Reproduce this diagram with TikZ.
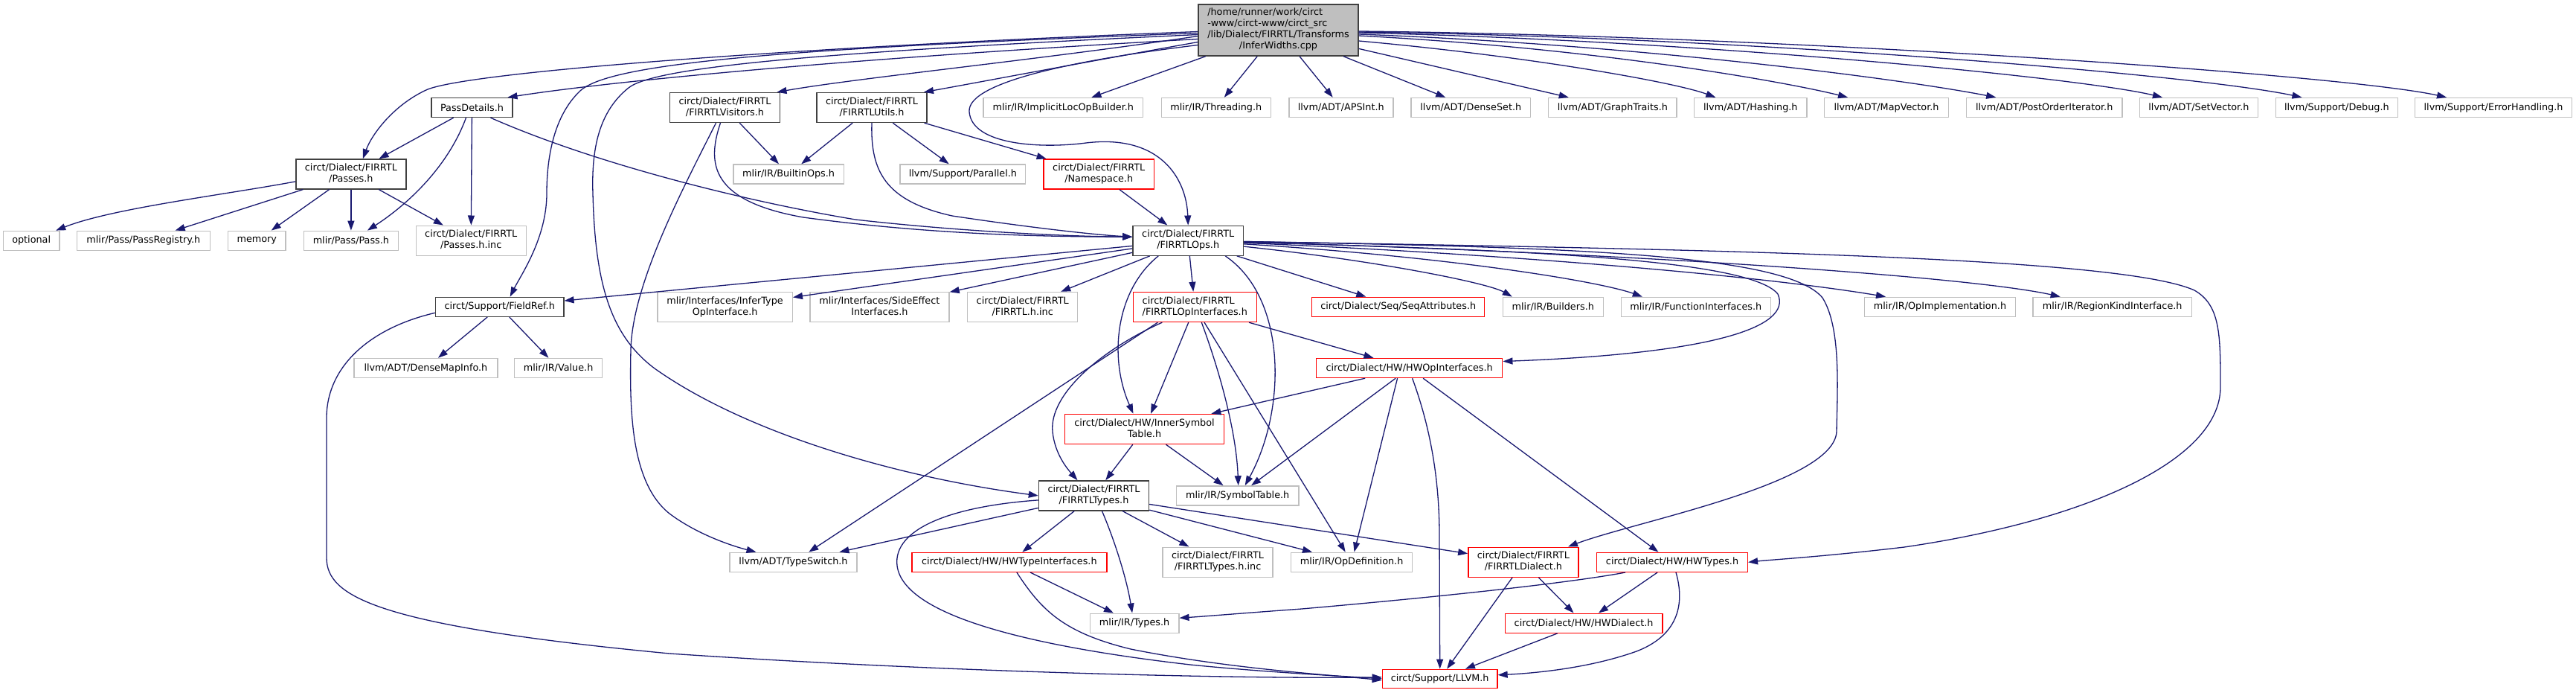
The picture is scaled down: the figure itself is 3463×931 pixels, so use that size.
\documentclass[tikz,border=0pt]{standalone}
\usepackage{fontspec}
\setmainfont{DejaVu Sans}
\usepackage{xcolor}
\usepackage{tikz}
\usetikzlibrary{arrows.meta,positioning}
\definecolor{EdgeBlue}{HTML}{191970}
\definecolor{DocLine}{HTML}{404040}
\definecolor{ExtLine}{HTML}{BFBFBF}
\definecolor{RootFill}{HTML}{BFBFBF}
\definecolor{CutRed}{HTML}{FF0000}
\newcommand{\doxlabel}[2]{\begin{tabular}{@{}l@{}}#1\\\multicolumn{1}{@{}c@{}}{#2}\end{tabular}}

\begin{document}
\begin{tikzpicture}[x=1pt,y=-1pt,
  file/.style={rectangle,inner sep=0pt,line width=1.4pt,minimum height=26pt,fill=white,text=black,font=\fontsize{12.8}{15}\selectfont},
  doc/.style={file,draw=DocLine},
  ext/.style={file,draw=ExtLine},
  cut/.style={file,draw=CutRed},
  tall/.style={minimum height=40pt},
  dep/.style={draw=EdgeBlue,line width=1.3pt,-{Triangle[length=13pt,width=9pt]}}]
  \fill[white] (0,0) rectangle (3463,931);
  \useasboundingbox (0,0) rectangle (3463,931);

  \node[file,draw=DocLine,fill=RootFill,minimum width=215,minimum height=69] (root) at (1718.5,40.5) {\doxlabel{/home/runner/work/circt\\-www/circt-www/circt\_src\\/lib/Dialect/FIRRTL/Transforms}{/InferWidths.cpp}};

  \node[doc,minimum width=109] (passdet) at (634.5,144.5) {PassDetails.h};
  \node[doc,tall,minimum width=148] (visitors) at (974.5,144.5) {\doxlabel{circt/Dialect/FIRRTL}{/FIRRTLVisitors.h}};
  \node[doc,tall,minimum width=148] (utils) at (1172,144.5) {\doxlabel{circt/Dialect/FIRRTL}{/FIRRTLUtils.h}};
  \node[ext,minimum width=214.7] (implicit) at (1429.3,144.5) {mlir/IR/ImplicitLocOpBuilder.h};
  \node[ext,minimum width=147] (threading) at (1634.8,144.5) {mlir/IR/Threading.h};
  \node[ext,minimum width=140] (apsint) at (1802.8,144.5) {llvm/ADT/APSInt.h};
  \node[ext,minimum width=160.6] (denseset) at (1977.3,144.5) {llvm/ADT/DenseSet.h};
  \node[ext,minimum width=172.3] (graphtraits) at (2167.9,144.5) {llvm/ADT/GraphTraits.h};
  \node[ext,minimum width=151.5] (hashing) at (2353.3,144.5) {llvm/ADT/Hashing.h};
  \node[ext,minimum width=166.7] (mapvector) at (2536,144.5) {llvm/ADT/MapVector.h};
  \node[ext,minimum width=209.5] (postorder) at (2748.2,144.5) {llvm/ADT/PostOrderIterator.h};
  \node[ext,minimum width=159] (setvector) at (2955.9,144.5) {llvm/ADT/SetVector.h};
  \node[ext,minimum width=163.6] (debug) at (3141.4,144.5) {llvm/Support/Debug.h};
  \node[ext,minimum width=210.7] (errhandling) at (3352,144.5) {llvm/Support/ErrorHandling.h};

  \node[doc,tall,minimum width=148] (passes) at (471.9,233.9) {\doxlabel{circt/Dialect/FIRRTL}{/Passes.h}};
  \node[ext,minimum width=148.2] (builtinops) at (1060.1,234) {mlir/IR/BuiltinOps.h};
  \node[ext,minimum width=168.7] (parallel) at (1294.4,234) {llvm/Support/Parallel.h};
  \node[cut,tall,minimum width=148.7] (namespace) at (1477.2,234) {\doxlabel{circt/Dialect/FIRRTL}{/Namespace.h}};

  \node[ext,minimum width=75.2] (optional) at (42.2,323.3) {optional};
  \node[ext,minimum width=179] (passregistry) at (192.9,323.3) {mlir/Pass/PassRegistry.h};
  \node[ext,minimum width=77.5] (memory) at (345.3,323.3) {memory};
  \node[ext,minimum width=127.4] (passh) at (471.9,323.3) {mlir/Pass/Pass.h};
  \node[ext,tall,minimum width=148] (passesinc) at (633.2,323.2) {\doxlabel{circt/Dialect/FIRRTL}{/Passes.h.inc}};
  \node[doc,tall,minimum width=148.7] (firrtlops) at (1597.2,323.2) {\doxlabel{circt/Dialect/FIRRTL}{/FIRRTLOps.h}};

  \node[doc,minimum width=172.3] (fieldref) at (671.7,412.3) {circt/Support/FieldRef.h};
  \node[ext,tall,minimum width=181.4] (infertype) at (974.6,412.5) {\doxlabel{mlir/Interfaces/InferType}{OpInterface.h}};
  \node[ext,tall,minimum width=187.2] (sideeffect) at (1182.4,412.5) {\doxlabel{mlir/Interfaces/SideEffect}{Interfaces.h}};
  \node[ext,tall,minimum width=148] (firrtlinc) at (1374.7,412.5) {\doxlabel{circt/Dialect/FIRRTL}{/FIRRTL.h.inc}};
  \node[cut,tall,minimum width=166] (opinterfaces) at (1606.3,412.5) {\doxlabel{circt/Dialect/FIRRTL}{/FIRRTLOpInterfaces.h}};
  \node[cut,minimum width=232] (seqattr) at (1879.7,412.3) {circt/Dialect/Seq/SeqAttributes.h};
  \node[ext,minimum width=135] (builders) at (2087.8,412.3) {mlir/IR/Builders.h};
  \node[ext,minimum width=201] (funcinterfaces) at (2279.8,412.3) {mlir/IR/FunctionInterfaces.h};
  \node[ext,minimum width=203] (opimpl) at (2608,412.3) {mlir/IR/OpImplementation.h};
  \node[ext,minimum width=213.6] (regionkind) at (2839.7,412.3) {mlir/IR/RegionKindInterface.h};

  \node[ext,minimum width=193] (densemapinfo) at (572.4,494.5) {llvm/ADT/DenseMapInfo.h};
  \node[ext,minimum width=117.7] (valueh) at (750.6,494.5) {mlir/IR/Value.h};
  \node[cut,minimum width=250.2] (hwopinterfaces) at (1894.6,494.5) {circt/Dialect/HW/HWOpInterfaces.h};

  \node[cut,tall,minimum width=214] (innersym) at (1538.5,576.5) {\doxlabel{circt/Dialect/HW/InnerSymbol}{Table.h}};

  \node[doc,tall,minimum width=148] (firrtltypes) at (1470.5,665.9) {\doxlabel{circt/Dialect/FIRRTL}{/FIRRTLTypes.h}};
  \node[ext,minimum width=164.7] (symboltable) at (1663.7,665.9) {mlir/IR/SymbolTable.h};

  \node[ext,minimum width=171] (typeswitch) at (1066.5,755.3) {llvm/ADT/TypeSwitch.h};
  \node[cut,minimum width=261.8] (hwtypeifaces) at (1356.9,755.3) {circt/Dialect/HW/HWTypeInterfaces.h};
  \node[ext,tall,minimum width=148] (typesinc) at (1637,755.2) {\doxlabel{circt/Dialect/FIRRTL}{/FIRRTLTypes.h.inc}};
  \node[ext,minimum width=163] (opdefinition) at (1817.1,755.3) {mlir/IR/OpDefinition.h};
  \node[cut,tall,minimum width=148.2] (firrtldialect) at (2047.9,755.2) {\doxlabel{circt/Dialect/FIRRTL}{/FIRRTLDialect.h}};
  \node[cut,minimum width=202.7] (hwtypes) at (2248,755.3) {circt/Dialect/HW/HWTypes.h};

  \node[ext,minimum width=119.4] (typesh) at (1525.1,837.2) {mlir/IR/Types.h};
  \node[cut,minimum width=211.8] (hwdialect) at (2129.1,837.2) {circt/Dialect/HW/HWDialect.h};

  \node[cut,minimum width=154.5,minimum height=25] (llvmh) at (1935.7,911.8) {circt/Support/LLVM.h};

  \draw[dep] ([yshift=-2]root.west) .. controls (1100,62) and (640,95) .. (575,120) .. controls (530,140) and (500,180) .. ([xshift=16]passes.north);
  \draw[dep] ([yshift=-12]root.west) .. controls (1200,75) and (850,105) .. ([xshift=48]passdet.north);
  \draw[dep] ([yshift=-4]root.west) .. controls (1050,65) and (820,85) .. (780,122) .. controls (745,155) and (735,210) .. (735,260) .. controls (735,320) and (700,370) .. ([xshift=14]fieldref.north);
  \draw[dep] ([yshift=-6]root.west) .. controls (1100,70) and (880,90) .. (845,118) .. controls (805,150) and (795,200) .. (797,260) .. controls (800,380) and (820,450) .. (880,495) .. controls (1000,580) and (1200,640) .. (firrtltypes.west);
  \draw[dep] ([yshift=-8]root.west) .. controls (1400,80) and (1150,105) .. ([xshift=70]visitors.north);
  \draw[dep] ([yshift=-16]root.west) .. controls (1450,85) and (1330,108) .. ([xshift=70]utils.north);
  \draw[dep] ([yshift=-20]root.west) .. controls (1450,80) and (1300,110) .. (1303,150) .. controls (1306,195) and (1400,200) .. (1460,192) .. controls (1560,180) and (1595,240) .. (firrtlops.north);
  \draw[dep] (root) -- (implicit);
  \draw[dep] (root) -- (threading);
  \draw[dep] (root) -- (apsint);
  \draw[dep] (root) -- (denseset);
  \draw[dep] (root) -- (graphtraits);
  \draw[dep] ([yshift=-14.5]root.east) .. controls (2050,75) and (2250,110) .. ([xshift=-47]hashing.north);
  \draw[dep] ([yshift=-7.5]root.east) .. controls (2150,65) and (2400,110) .. ([xshift=-52]mapvector.north);
  \draw[dep] ([yshift=-5.5]root.east) .. controls (2200,60) and (2550,105) .. ([xshift=-65]postorder.north);
  \draw[dep] ([yshift=-3.5]root.east) .. controls (2300,55) and (2800,105) .. ([xshift=-49]setvector.north);
  \draw[dep] ([yshift=-2.5]root.east) .. controls (2350,50) and (2950,100) .. ([xshift=-47]debug.north);
  \draw[dep] ([yshift=-1.5]root.east) .. controls (2400,48) and (3150,100) .. ([xshift=-63]errhandling.north);

  \draw[dep] (visitors) -- (builtinops);
  \draw[dep] ([xshift=-6]visitors.south) .. controls (950,220) and (955,270) .. (1080,292) .. controls (1250,315) and (1400,318) .. ([yshift=5]firrtlops.west);
  \draw[dep] ([xshift=-12]visitors.south) .. controls (920,250) and (850,380) .. (848,470) .. controls (846,560) and (850,650) .. (900,690) .. controls (940,720) and (990,735) .. ([xshift=-50]typeswitch.north);
  \draw[dep] (utils) -- (builtinops);
  \draw[dep] (utils) -- (parallel);
  \draw[dep] (utils) -- (namespace);
  \draw[dep] (utils.south) .. controls (1170,230) and (1190,270) .. (1280,290) .. controls (1400,308) and (1480,316) .. ([yshift=5]firrtlops.west);
  \draw[dep] (namespace) -- (firrtlops);

  \draw[dep] (passdet) -- (passes);
  \draw[dep] ([xshift=-8]passdet.south) .. controls (600,230) and (540,280) .. ([xshift=22]passh.north);
  \draw[dep] (passdet) -- (passesinc);
  \draw[dep] ([xshift=25]passdet.south) .. controls (800,220) and (1000,270) .. (1150,295) .. controls (1300,312) and (1450,318) .. ([yshift=5]firrtlops.west);

  \draw[dep] ([yshift=-10]passes.west) .. controls (300,262) and (150,280) .. ([xshift=33]optional.north);
  \draw[dep] (passes) -- (passregistry);
  \draw[dep] (passes) -- (memory);
  \draw[dep] (passes) -- (passh);
  \draw[dep] (passes) -- (passesinc);

  \draw[dep] (fieldref) -- (densemapinfo);
  \draw[dep] (fieldref) -- (valueh);
  \draw[dep] ([yshift=-8]fieldref.west) .. controls (500,440) and (440,490) .. (439,560) -- (439,750) .. controls (440,800) and (500,840) .. (900,878) .. controls (1300,905) and (1700,912) .. ([yshift=2]llvmh.west);

  \draw[dep] (firrtlops) -- (fieldref);
  \draw[dep] (firrtlops) -- (infertype);
  \draw[dep] (firrtlops) -- (sideeffect);
  \draw[dep] (firrtlops) -- (firrtlinc);
  \draw[dep] (firrtlops) -- (opinterfaces);
  \draw[dep] ([xshift=-40]firrtlops.south) .. controls (1500,390) and (1490,480) .. ([xshift=-15]innersym.north);
  \draw[dep] ([xshift=50]firrtlops.south) .. controls (1730,400) and (1730,550) .. ([xshift=10]symboltable.north);
  \draw[dep] (firrtlops) -- (seqattr);
  \draw[dep] (firrtlops) .. controls (1850,350) and (2000,380) .. ([xshift=-55]builders.north);
  \draw[dep] (firrtlops) .. controls (1950,345) and (2150,378) .. ([xshift=-72]funcinterfaces.north);
  \draw[dep] (firrtlops) .. controls (2000,340) and (2350,368) .. ([xshift=-73]opimpl.north);
  \draw[dep] (firrtlops) .. controls (2200,340) and (2650,372) .. ([xshift=-70]regionkind.north);
  \draw[dep] (firrtlops) .. controls (2000,335) and (2350,345) .. (2390,395) .. controls (2410,440) and (2300,475) .. ([yshift=9]hwopinterfaces.east);
  \draw[dep] (firrtlops) .. controls (2100,332) and (2400,340) .. (2450,400) .. controls (2475,440) and (2470,520) .. (2469,580) .. controls (2465,650) and (2200,700) .. ([xshift=60]firrtldialect.north);
  \draw[dep] (firrtlops) .. controls (2300,335) and (2850,345) .. (2950,390) .. controls (2985,410) and (2985,450) .. (2985,520) .. controls (2985,620) and (2800,700) .. (2560,735) .. controls (2450,748) and (2380,752) .. (hwtypes.east);

  \draw[dep] ([xshift=-50]opinterfaces.south) -- (typeswitch);
  \draw[dep] ([xshift=-44]opinterfaces.south) .. controls (1480,470) and (1410,530) .. (1415,580) .. controls (1418,610) and (1435,630) .. ([xshift=-22]firrtltypes.north);
  \draw[dep] (opinterfaces) -- (innersym);
  \draw[dep] ([xshift=9]opinterfaces.south) .. controls (1640,500) and (1662,580) .. ([xshift=1]symboltable.north);
  \draw[dep] (opinterfaces) -- (opdefinition);
  \draw[dep] (opinterfaces) -- (hwopinterfaces);

  \draw[dep] (hwopinterfaces) -- (innersym);
  \draw[dep] (hwopinterfaces) -- (symboltable);
  \draw[dep] ([xshift=-16]hwopinterfaces.south) -- (opdefinition);
  \draw[dep] ([xshift=4]hwopinterfaces.south) .. controls (1925,580) and (1935,650) .. (1935,720) -- (llvmh.north);
  \draw[dep] (hwopinterfaces) -- (hwtypes);

  \draw[dep] (innersym) -- (firrtltypes);
  \draw[dep] (innersym) -- (symboltable);

  \draw[dep] (firrtltypes) -- (typeswitch);
  \draw[dep] (firrtltypes) -- (hwtypeifaces);
  \draw[dep] ([xshift=11]firrtltypes.south) .. controls (1500,730) and (1515,780) .. ([xshift=-3]typesh.north);
  \draw[dep] (firrtltypes) -- (typesinc);
  \draw[dep] (firrtltypes) -- (opdefinition);
  \draw[dep] (firrtltypes) -- (firrtldialect);
  \draw[dep] ([yshift=-6]firrtltypes.west) .. controls (1280,680) and (1200,710) .. (1206,760) .. controls (1215,830) and (1400,870) .. (1600,893) .. controls (1700,903) and (1800,908) .. (llvmh.west);

  \draw[dep] (hwtypeifaces) -- (typesh);
  \draw[dep] ([xshift=10]hwtypeifaces.south) .. controls (1400,820) and (1430,850) .. (1520,872) .. controls (1650,898) and (1780,906) .. ([yshift=-2]llvmh.west);

  \draw[dep] ([xshift=-63]hwtypes.south) .. controls (2100,785) and (1900,805) .. (1750,818) .. controls (1680,823) and (1620,828) .. ([yshift=7]typesh.east);
  \draw[dep] (hwtypes) -- (hwdialect);
  \draw[dep] ([xshift=5]hwtypes.south) .. controls (2262,800) and (2265,850) .. (2200,875) .. controls (2130,900) and (2050,905) .. ([yshift=5]llvmh.east);

  \draw[dep] (firrtldialect) -- (hwdialect);
  \draw[dep] (firrtldialect) -- (llvmh);
  \draw[dep] (hwdialect) -- (llvmh);
\end{tikzpicture}
\end{document}
